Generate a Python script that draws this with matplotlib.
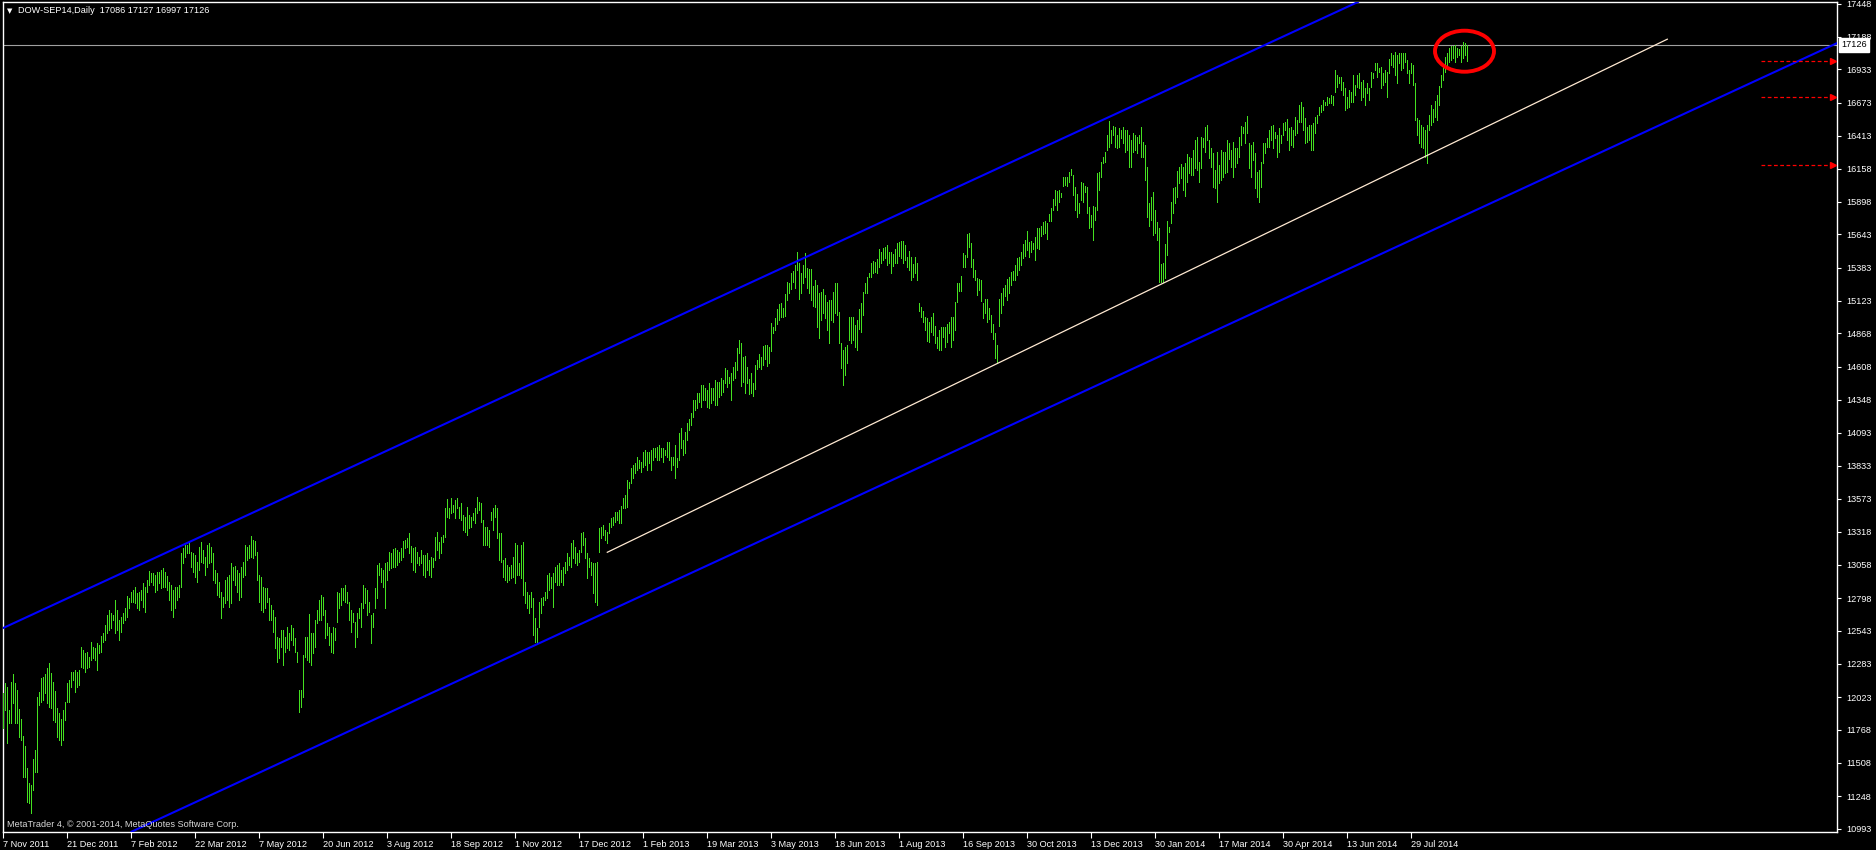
import numpy as np
import matplotlib.pyplot as plt
from matplotlib.patches import Ellipse

plt.rcParams['font.family'] = ['Liberation Sans', 'DejaVu Sans']

# daily bars (high / low), oldest first
highs = [
    12052, 12136, 12105, 11922, 12138, 12201, 12131, 12078, 11927, 11852,
    11719, 11643, 11466, 11348, 11335, 11536, 11609, 12026, 12065, 12170,
    12183, 12204, 12248, 12287, 12209, 12144, 12071, 11935, 11896, 11852,
    11922, 11987, 12131, 12157, 12222, 12222, 12235, 12222, 12235, 12417,
    12391, 12365, 12378, 12339, 12457, 12417, 12404, 12449, 12430, 12501,
    12522, 12587, 12665, 12704, 12683, 12665, 12782, 12704, 12626, 12652,
    12678, 12717, 12814, 12796, 12848, 12861, 12887, 12835, 12848, 12861,
    12913, 12887, 12939, 13012, 12991, 12991, 12978, 13004, 13004, 13017,
    13036, 13004, 12970, 12926, 12900, 12861, 12887, 12887, 12900, 13148,
    13187, 13213, 13213, 13239, 13161, 13148, 13135, 13082, 13200, 13239,
    13174, 13122, 13213, 13226, 13200, 13148, 13017, 12991, 12926, 12848,
    12809, 12939, 12965, 12978, 13069, 13043, 13049, 13017, 12991, 13043,
    13082, 13213, 13200, 13213, 13283, 13252, 13247, 13161, 12978, 12965,
    12887, 12874, 12874, 12796, 12743, 12704, 12652, 12496, 12483, 12548,
    12548, 12496, 12574, 12522, 12587, 12561, 12483, 12378, 12078, 12078,
    12352, 12496, 12496, 12673, 12522, 12522, 12626, 12704, 12782, 12822,
    12809, 12704, 12600, 12574, 12522, 12574, 12561, 12848, 12835, 12874,
    12874, 12900, 12848, 12769, 12704, 12678, 12613, 12678, 12717, 12756,
    12900, 12874, 12861, 12769, 12665,
    12678, 12874, 13056, 13070, 13030, 13017, 13070, 13083, 13161, 13148,
    13179, 13187, 13174, 13161, 13187, 13244, 13252, 13265, 13304, 13205,
    13187, 13200, 13161, 13122, 13174, 13135, 13135, 13148, 13096, 13122,
    13109, 13278, 13317, 13239, 13278, 13291, 13500, 13570, 13500, 13578,
    13526, 13565, 13578, 13513, 13544, 13448, 13435, 13513, 13448, 13435,
    13461, 13500, 13586, 13552, 13539, 13409, 13356, 13356, 13330, 13474,
    13500, 13526, 13500, 13304, 13304, 13096, 13109, 13056, 13043, 13056,
    13122, 13226, 13213, 13070, 13213, 13239, 12926, 12848, 12822, 12848,
    12796, 12639, 12561, 12770, 12796, 12809, 12848, 12978, 12991, 12965,
    12991, 13043, 13056, 13070, 13017, 13043, 13083, 13148, 13122, 13226,
    13252, 13200, 13148, 13174, 13304, 13317, 13265, 13148, 13109, 13083,
    13070, 13070, 13083, 13343, 13356, 13369, 13330, 13317, 13383, 13422,
    13435, 13474, 13474, 13487, 13518, 13578, 13604, 13721, 13708, 13813,
    13839, 13852, 13904, 13878, 13865, 13943, 13956, 13943, 13943, 13956,
    13969, 13969, 13982, 13995, 13969, 13969, 13956, 14021, 14021, 13904,
    13904, 13995, 13891, 14087, 14126, 14035, 14100, 14165, 14196, 14243,
    14347, 14347, 14400, 14400, 14465, 14465, 14439, 14426, 14478, 14439,
    14439, 14504, 14491, 14491, 14517, 14504, 14595, 14582, 14530, 14556,
    14608, 14647, 14752, 14817,
    14796, 14686, 14692, 14608, 14509, 14556, 14478, 14621, 14660, 14707,
    14681, 14770, 14778, 14778, 14765, 14947, 14921, 14987, 15057, 15099,
    15104, 15070, 15177, 15273, 15265, 15338, 15359, 15404, 15508, 15417,
    15338, 15404, 15495, 15383, 15370, 15372, 15242, 15286, 15247, 15182,
    15190, 15213, 15169, 15117, 15130, 15130, 15190, 15265, 15265, 15036,
    14791, 14739, 14765, 14778, 14994, 15000, 15000, 14934, 14973, 15059,
    15104, 15190, 15265, 15307, 15338, 15422, 15435, 15430, 15448, 15526,
    15503, 15539, 15547, 15560, 15508, 15508, 15490, 15526, 15578, 15586,
    15591, 15591, 15560, 15469, 15516, 15464, 15411, 15469, 15422, 15109,
    15078, 15046, 15000, 14987, 14960, 15000, 15026, 14926, 14843, 14895,
    14921, 14916, 14921, 14939, 14960, 14994, 15000, 15117, 15265, 15265,
    15318, 15500, 15482, 15644, 15651, 15573, 15448, 15365, 15299, 15292,
    15286, 15104, 15135, 15135, 15065, 15013, 14942, 14874, 14778, 15135,
    15182, 15221, 15247, 15297, 15312, 15346, 15354, 15404, 15456, 15469,
    15508, 15565, 15599, 15670, 15586, 15591, 15573, 15625, 15696, 15696,
    15712, 15743, 15751, 15730, 15803, 15847, 15917, 15990, 15985, 15990,
    15970, 16090, 16090, 16090, 16134, 16152, 16108, 16017, 15957, 15891,
    16056, 16043, 16022, 16011, 15860, 15795, 15865, 15860, 16126, 16134,
    16212, 16246, 16290, 16421,
    16530, 16460, 16491, 16486, 16421, 16473, 16460, 16481, 16460, 16460,
    16421, 16382, 16434, 16421, 16408, 16421, 16481, 16369, 16342, 16173,
    15886, 15938, 15977, 15834, 15743, 15690, 15411, 15417, 15568, 15748,
    15704, 15899, 16003, 16011, 16142, 16173, 16191, 16173, 16199, 16272,
    16251, 16238, 16303, 16382, 16408, 16212, 16408, 16395, 16486, 16499,
    16382, 16316, 16277, 16147, 16290, 16186, 16303, 16290, 16290, 16382,
    16356, 16303, 16369, 16316, 16316, 16408, 16491, 16486, 16525, 16569,
    16356, 16342, 16369, 16277, 16134, 16147, 16212, 16356, 16356, 16395,
    16460, 16491, 16499, 16447, 16421, 16473, 16421, 16512, 16525, 16543,
    16473, 16486, 16460, 16564, 16538, 16655, 16682, 16642, 16551, 16486,
    16499, 16499, 16512, 16564, 16577, 16637, 16655, 16695, 16682, 16715,
    16708, 16734, 16726, 16929, 16890, 16877, 16872, 16838, 16786, 16721,
    16773, 16760, 16890, 16812, 16890, 16903, 16838, 16851, 16786, 16825,
    16786, 16916, 16903, 16981, 16981, 16942, 16955, 16903, 16929, 16916,
    17013, 17060, 17047, 17073, 17047, 17065, 17060, 17060, 17060, 17008,
    16929, 16981, 16968, 16825, 16551, 16538, 16499, 16486, 16460, 16499,
    16577, 16655, 16622, 16689, 16734, 16804, 16890, 16955, 17034, 17060,
    17099, 17120, 17117, 17125, 17099, 17091, 17120, 17146, 17143, 17127,
]
lows = [
    11779, 11922, 11661, 11818, 11818, 11974, 11818, 11818, 11713, 11687,
    11400, 11400, 11205, 11192, 11119, 11296, 11440, 11440, 11961, 11987,
    12000, 12052, 11974, 11948, 11935, 11844, 11831, 11713, 11687, 11648,
    11687, 11844, 11987, 11987, 12105, 12157, 12065, 12105, 12118, 12261,
    12248, 12222, 12248, 12261, 12313, 12326, 12313, 12235, 12365, 12378,
    12457, 12470, 12522, 12548, 12561, 12626, 12522, 12548, 12470, 12535,
    12600, 12626, 12652, 12717, 12769, 12769, 12756, 12717, 12704, 12782,
    12730, 12691, 12848, 12900, 12926, 12900, 12848, 12861, 12913, 12874,
    12887, 12887, 12861, 12782, 12704, 12652, 12717, 12782, 12809, 12887,
    13069, 13122, 13148, 13148, 13043, 13004, 12965, 12926, 13017, 13082,
    13069, 12978, 13043, 13069, 13082, 12939, 12913, 12822, 12809, 12639,
    12730, 12756, 12782, 12730, 12756, 12939, 12900, 12848, 12782, 12809,
    12965, 12978, 13096, 13109, 13122, 13109, 13135, 12939, 12769, 12704,
    12691, 12717, 12769, 12626, 12626, 12535, 12404, 12300, 12326, 12417,
    12274, 12378, 12404, 12391, 12470, 12430, 12378, 12300, 11909, 11948,
    12026, 12339, 12313, 12300, 12274, 12365, 12417, 12600, 12626, 12626,
    12665, 12483, 12509, 12430, 12378, 12365, 12470, 12613, 12717, 12743,
    12782, 12769, 12756, 12626, 12535, 12613, 12417, 12496, 12639, 12574,
    12717, 12756, 12665, 12691, 12444,
    12574, 12717, 12796, 12978, 12926, 12887, 12717, 12939, 13017, 13030,
    13043, 13043, 13056, 13083, 13096, 13122, 13187, 13200, 13148, 13083,
    13017, 13004, 13070, 13056, 13070, 12978, 12965, 13017, 12978, 12965,
    13043, 13096, 13174, 13109, 13148, 13239, 13278, 13435, 13422, 13461,
    13474, 13422, 13500, 13422, 13409, 13330, 13317, 13291, 13343, 13356,
    13409, 13383, 13461, 13487, 13396, 13213, 13213, 13213, 13200, 13409,
    13330, 13435, 13265, 13096, 13083, 12965, 12939, 12926, 12939, 12952,
    12965, 12913, 12978, 12978, 12952, 12822, 12757, 12717, 12678, 12730,
    12509, 12457, 12444, 12574, 12678, 12743, 12783, 12796, 12861, 12874,
    12730, 12926, 12900, 12900, 12926, 12900, 12991, 13017, 13056, 13043,
    13109, 13070, 13056, 13083, 13161, 13213, 13109, 12952, 13043, 12978,
    12835, 12770, 12743, 13161, 13265, 13291, 13252, 13226, 13304, 13356,
    13369, 13396, 13409, 13383, 13383, 13500, 13500, 13513, 13656, 13695,
    13735, 13774, 13800, 13813, 13787, 13826, 13839, 13800, 13852, 13800,
    13878, 13904, 13878, 13878, 13904, 13865, 13917, 13904, 13878, 13800,
    13839, 13735, 13826, 13878, 13969, 13917, 13930, 14035, 14113, 14152,
    14217, 14269, 14282, 14334, 14295, 14347, 14347, 14295, 14282, 14321,
    14347, 14308, 14308, 14374, 14387, 14413, 14478, 14452, 14478, 14347,
    14504, 14517, 14582, 14713,
    14457, 14491, 14400, 14478, 14394, 14400, 14379, 14431, 14587, 14608,
    14587, 14621, 14666, 14616, 14634, 14733, 14869, 14895, 14942, 14973,
    15000, 14994, 15005, 15130, 15182, 15216, 15273, 15221, 15365, 15135,
    15182, 15260, 15312, 15221, 15182, 15130, 15083, 15078, 14921, 14830,
    14973, 15026, 14987, 14895, 14796, 14973, 14960, 15026, 15013, 14791,
    14595, 14465, 14543, 14634, 14817, 14791, 14817, 14765, 14739, 14900,
    14882, 15013, 15182, 15182, 15312, 15312, 15338, 15351, 15338, 15391,
    15417, 15443, 15456, 15404, 15417, 15338, 15398, 15417, 15417, 15474,
    15456, 15417, 15443, 15391, 15365, 15286, 15312, 15338, 15286, 15046,
    15000, 14960, 14895, 14812, 14804, 14882, 14856, 14791, 14752, 14739,
    14739, 14843, 14765, 14804, 14869, 14765, 14817, 14895, 15117, 15200,
    15200, 15391, 15391, 15469, 15547, 15391, 15307, 15286, 15169, 15208,
    15122, 14987, 15031, 14960, 14979, 14882, 14822, 14673, 14634, 14926,
    15026, 15091, 15161, 15130, 15187, 15247, 15286, 15286, 15325, 15365,
    15404, 15456, 15474, 15521, 15469, 15508, 15526, 15443, 15534, 15526,
    15631, 15644, 15651, 15604, 15751, 15751, 15834, 15873, 15834, 15899,
    15938, 16022, 16030, 16022, 16056, 16108, 15951, 15834, 15777, 15808,
    15912, 15899, 15977, 15808, 15691, 15698, 15599, 15756, 15834, 15990,
    16095, 16199, 16212, 16303,
    16329, 16356, 16421, 16329, 16316, 16329, 16395, 16356, 16290, 16303,
    16173, 16173, 16290, 16303, 16277, 16356, 16251, 16251, 16069, 15782,
    15709, 15756, 15638, 15651, 15599, 15273, 15273, 15273, 15299, 15482,
    15664, 15730, 15808, 15886, 15938, 16043, 16082, 15990, 15943, 16056,
    16121, 16108, 16108, 16160, 16147, 16050, 16160, 16329, 16290, 16382,
    16238, 16173, 16016, 16003, 15899, 16043, 16069, 16095, 16121, 16134,
    16230, 16173, 16095, 16173, 16199, 16251, 16342, 16434, 16356, 16434,
    16160, 16095, 16225, 16003, 15938, 15899, 16016, 16199, 16277, 16329,
    16329, 16382, 16316, 16395, 16251, 16290, 16356, 16421, 16460, 16382,
    16303, 16342, 16329, 16421, 16434, 16525, 16525, 16460, 16356, 16369,
    16382, 16303, 16303, 16434, 16512, 16577, 16603, 16616, 16655, 16655,
    16668, 16674, 16655, 16760, 16799, 16825, 16773, 16734, 16616, 16629,
    16642, 16682, 16682, 16734, 16799, 16786, 16695, 16721, 16655, 16747,
    16695, 16799, 16864, 16929, 16877, 16916, 16786, 16812, 16838, 16721,
    16903, 16968, 16955, 16890, 16825, 16981, 16929, 16942, 16994, 16903,
    16825, 16903, 16812, 16538, 16421, 16356, 16329, 16316, 16251, 16199,
    16460, 16499, 16525, 16564, 16538, 16655, 16799, 16851, 16916, 16942,
    16994, 17008, 17021, 16994, 17034, 17047, 16994, 17021, 17047, 16997,
]

date_labels = ['7 Nov 2011', '21 Dec 2011', '7 Feb 2012', '22 Mar 2012', '7 May 2012',
               '20 Jun 2012', '3 Aug 2012', '18 Sep 2012', '1 Nov 2012', '17 Dec 2012',
               '1 Feb 2013', '19 Mar 2013', '3 May 2013', '18 Jun 2013', '1 Aug 2013',
               '16 Sep 2013', '30 Oct 2013', '13 Dec 2013', '30 Jan 2014', '17 Mar 2014',
               '30 Apr 2014', '13 Jun 2014', '29 Jul 2014']
bars_per_label = 32

price_ticks = [17448, 17188, 16933, 16673, 16413, 16158, 15898, 15643, 15383, 15123,
               14868, 14608, 14348, 14093, 13833, 13573, 13318, 13058, 12798, 12543,
               12283, 12023, 11768, 11508, 11248, 10993]

header = 'DOW-SEP14,Daily  17086 17127 16997 17126'
last_price = 17126

# drawn objects, as (bar, price) anchors
upper_channel = [(0, 12564), (552, 16555)]
lower_channel = [(184, 11837), (916, 17133)]
support_line = [(302, 13156), (832, 17170)]
order_levels = [16997, 16716, 16184]
order_bars = [879, 915]
circle_center = (730.6, 17076)
circle_size = (29.5, 321)

green = '#44e020'

W, H = 1876, 850
fig = plt.figure(figsize=(W / 100, H / 100), dpi=100, facecolor='black')
ax = fig.add_axes([3 / W, 1 - 831.7 / H, 1833.7 / W, 829.7 / H])
ax.set_facecolor('black')

x = np.arange(len(highs))
ax.vlines(x, lows, highs, colors=green, lw=0.72, antialiased=False, zorder=3)

ax.axline(upper_channel[0], upper_channel[1], color='#0000ff', lw=1.5, zorder=4)
ax.axline(lower_channel[0], lower_channel[1], color='#0000ff', lw=1.5, zorder=4)
ax.plot([p[0] for p in support_line], [p[1] for p in support_line],
        color='#ffe9d2', lw=0.9, zorder=4)
ax.axhline(last_price, color='#a0a0a0', lw=0.8, zorder=2)

ax.hlines(order_levels, order_bars[0], order_bars[1], colors='red',
          linestyles=(0, (3, 2)), lw=0.9, zorder=4)
ax.plot([order_bars[1]] * len(order_levels), order_levels, '>', color='red',
        ms=4, zorder=5)

ax.add_patch(Ellipse(circle_center, circle_size[0], circle_size[1], fill=False,
                     ec='red', lw=2.8, zorder=6))

ax.set_xlim(-0.15, 916.7)
ax.set_ylim(10970, 17461)

for s in ax.spines.values():
    s.set_color('white')
    s.set_linewidth(1)

ax.yaxis.tick_right()
ax.set_yticks(price_ticks)
ax.set_yticklabels([str(v) for v in price_ticks])
ax.tick_params(axis='y', colors='white', length=3, width=0.8, pad=4, labelsize=6.6)

ax.set_xticks(np.arange(len(date_labels)) * bars_per_label)
ax.set_xticklabels(date_labels, ha='left')
ax.tick_params(axis='x', colors='white', length=4, width=0.8, pad=2, labelsize=6.6)

ax.annotate(str(last_price), xy=(1, last_price), xycoords=('axes fraction', 'data'),
            xytext=(3, 0), textcoords='offset points', ha='left', va='center',
            fontsize=6.6, color='black',
            bbox=dict(boxstyle='square,pad=0.25', fc='white', ec='white'))

fig.text(7 / W, 1 - 10.7 / H, '▼', color='white', fontsize=5, va='center',
         family=['DejaVu Sans'])
fig.text(18 / W, 1 - 10.7 / H, header, color='white', fontsize=6.6, va='center')
fig.text(7 / W, 1 - 824.3 / H, 'MetaTrader 4, © 2001-2014, MetaQuotes Software Corp.',
         color='#d8d8d8', fontsize=6.6, va='center')

plt.savefig('out.png', dpi=100, facecolor='black')
